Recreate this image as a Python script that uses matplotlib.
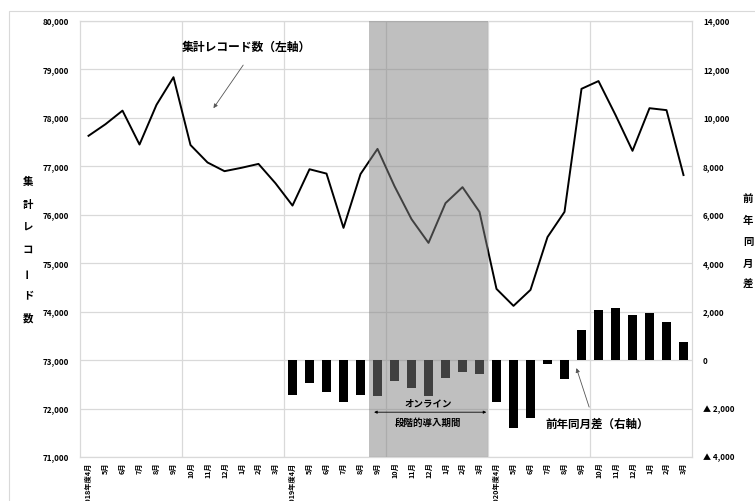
import numpy as np
import matplotlib
matplotlib.use("Agg")
import matplotlib.pyplot as plt
from matplotlib.patches import Rectangle
from matplotlib.ticker import FuncFormatter, MultipleLocator

plt.rcParams['font.family'] = ['Noto Sans CJK JP', 'DejaVu Sans']
plt.rcParams['font.weight'] = 'bold'

# 2018年度4月 ～ 2020年度3月 の月次データ
months = ["4月", "5月", "6月", "7月", "8月", "9月", "10月", "11月", "12月", "1月", "2月", "3月"]
labels = []
for fy in (2018, 2019, 2020):
    for m in months:
        labels.append(f"{fy}年度{m}" if m == "4月" else m)

# 集計レコード数（左軸）
records = [77630, 77870, 78150, 77450, 78270, 78840, 77440, 77080, 76900, 76970, 77050, 76650,
           76190, 76940, 76850, 75730, 76840, 77360, 76590, 75910, 75420, 76240, 76570, 76060,
           74470, 74120, 74450, 75540, 76060, 78600, 78760, 78060, 77320, 78200, 78160, 76820]

# 前年同月差（右軸）、2019年度4月から
yoy = [np.nan] * 12 + [-1440, -930, -1300, -1720, -1430, -1480, -850, -1170, -1480, -730, -480, -590,
                       -1720, -2820, -2400, -170, -800, 1230, 2070, 2150, 1860, 1940, 1590, 760]

online_start, online_end = 16.5, 23.5   # オンライン段階的導入期間

x = np.arange(len(labels))

fig = plt.figure(figsize=(7.55, 5.01), dpi=100)
fig.patches.append(Rectangle((9 / 755, -0.05), 1.0, 1 - 11 / 501 + 0.05, transform=fig.transFigure,
                             fill=False, edgecolor='#d9d9d9', linewidth=0.8))
ax = fig.add_axes([80 / 755, 1 - 457 / 501, 612 / 755, 436 / 501])
ax2 = ax.twinx()

# 左軸：折れ線
ax.plot(x, records, color='black', linewidth=1.4, zorder=3)
ax.set_ylim(71000, 80000)
ax.yaxis.set_major_locator(MultipleLocator(1000))
ax.yaxis.set_major_formatter(FuncFormatter(lambda v, p: f"{v:,.0f}"))
ax.set_xlim(-0.5, len(labels) - 0.5)
ax.set_xticks(x)
ax.set_xticklabels(labels, rotation=90)
ax.grid(axis='y', color='#d9d9d9', linewidth=0.9)
for b in np.arange(5.5, len(labels) - 1, 6):
    ax.axvline(b, color='#d9d9d9', linewidth=0.9, zorder=0)
ax.set_axisbelow(True)

# 右軸：棒グラフ
ax2.bar(x, yoy, width=0.5, color='black', zorder=2)
ax2.set_ylim(-4000, 14000)
ax2.yaxis.set_major_locator(MultipleLocator(2000))
ax2.yaxis.set_major_formatter(FuncFormatter(
    lambda v, p: f"▲ {abs(v):,.0f}" if v < 0 else f"{v:,.0f}"))

# 期間の網掛け
ax2.axvspan(online_start, online_end, color='#808080', alpha=0.5, linewidth=0, zorder=5)

for a in (ax, ax2):
    a.tick_params(length=0, labelsize=5.8)
    for s in a.spines.values():
        s.set_color('#d9d9d9')
ax.tick_params(axis='y', pad=8)
ax.tick_params(axis='x', pad=4, labelsize=5.2)
ax2.tick_params(axis='y', pad=8)
for t in ax.get_xticklabels():
    t.set_fontweight('bold')


def vertical_label(xpx, ypx_top, text, step):
    # 縦書き：1文字ずつ配置し、長音記号は回転させる
    for i, ch in enumerate(text):
        rot = 90 if ch == "ー" else 0
        fig.text(xpx / 755, 1 - (ypx_top + i * step) / 501, ch, ha='center', va='center',
                 fontsize=7.5, fontweight='bold', rotation=rot)


vertical_label(28, 182, "集計レコード数", 22.7)
vertical_label(748, 199, "前年同月差", 21.5)

# 注記
ax.annotate("", xy=(7.35, 78200), xytext=(9.1, 79090),
            arrowprops=dict(arrowstyle='-|>', color='#555555', lw=0.6,
                            mutation_scale=6, shrinkA=0, shrinkB=0))
ax.text(9.3, 79460, "集計レコード数（左軸）", ha='center', va='center', fontsize=8.5, fontweight='bold')

ax2.annotate("", xy=(28.7, -330), xytext=(29.45, -1940),
             arrowprops=dict(arrowstyle='-|>', color='#555555', lw=0.6,
                             mutation_scale=6, shrinkA=0, shrinkB=0))
ax2.text(29.9, -2640, "前年同月差（右軸）", ha='center', va='center', fontsize=8.3,
         fontweight='bold', zorder=6)

ax2.annotate("", xy=(16.8, -2150), xytext=(23.4, -2150),
             arrowprops=dict(arrowstyle='<|-|>', color='black', lw=0.6,
                             mutation_scale=4, shrinkA=0, shrinkB=0), zorder=6)
ax2.text(20.0, -1800, "オンライン", ha='center', va='center', fontsize=6.8, fontweight='bold', zorder=6)
ax2.text(20.0, -2580, "段階的導入期間", ha='center', va='center', fontsize=6.8, fontweight='bold', zorder=6)

fig.savefig("out.png", dpi=100)
